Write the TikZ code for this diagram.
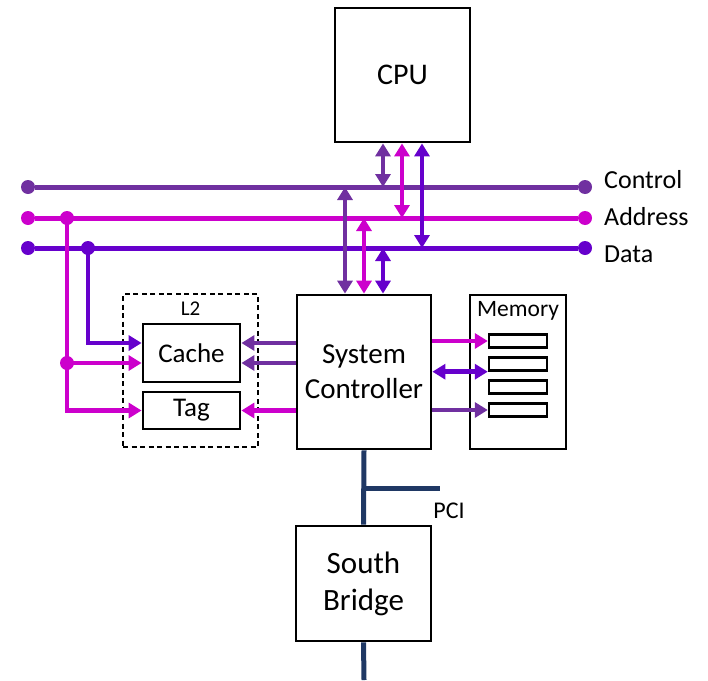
\documentclass[tikz,border=0pt]{standalone}
\usepackage{fontspec}
\setmainfont{Carlito}
\usetikzlibrary{arrows.meta,positioning,calc}
\definecolor{ctlc}{HTML}{7030A0}
\definecolor{addrc}{HTML}{CC00CC}
\definecolor{datac}{HTML}{6600CC}
\definecolor{pcic}{HTML}{1F3864}

\begin{document}
\begin{tikzpicture}[
    x=1pt, y=-1pt,
    box/.style={draw, line width=2.8pt, align=center, inner sep=0pt},
    membox/.style={draw, line width=1.4pt, inner sep=0pt},
    slot/.style={draw, line width=2.4pt, inner sep=0pt, minimum width=58pt, minimum height=13pt},
    l2box/.style={draw, dash pattern=on 5pt off 3.5pt, line width=1.2pt, inner sep=0pt},
    dot/.style={circle, inner sep=0pt, minimum size=14pt},
    bus/.style={line width=5pt},
    ar/.style={-{Triangle[length=13pt,width=15pt]}, line width=4.5pt},
    dar/.style={{Triangle[length=13pt,width=15pt]}-{Triangle[length=13pt,width=15pt]}, line width=4.5pt},
    pci/.style={line width=5pt, pcic},
    lbl/.style={anchor=west, inner sep=0pt, font=\fontsize{26}{30}\selectfont},
  ]
    \useasboundingbox (0,0) rectangle (708,680);

    % boxes
    \node[box, minimum width=135pt, minimum height=134pt, font=\fontsize{30}{36}\selectfont] (cpu) at (402.5,75) {CPU};
    \node[box, minimum width=134pt, minimum height=154pt, font=\fontsize{29}{35}\selectfont] (sysc) at (364,372) {System\\Controller};
    \node[box, minimum width=135pt, minimum height=115pt, font=\fontsize{31}{37}\selectfont] (sb) at (363.5,583.5) {South\\Bridge};
    \node[l2box, minimum width=135pt, minimum height=153pt] (l2) at (190.5,370.5) {};
    \node[font=\fontsize{21}{24}\selectfont, inner sep=0pt] (l2lbl) at (190.5,309) {L2};
    \node[box, minimum width=97pt, minimum height=58pt, font=\fontsize{27}{30}\selectfont] (cache) at (191.5,353) {Cache};
    \node[box, minimum width=97pt, minimum height=37pt, font=\fontsize{27}{30}\selectfont] (tag) at (191.5,410.5) {Tag};
    \node[membox, minimum width=96pt, minimum height=154pt] (mem) at (518,372) {};
    \node[font=\fontsize{23.5}{26}\selectfont, inner sep=0pt] (memlbl) at (518,311) {Memory};
    \node[slot] (slot1) at (518,341) {};
    \node[slot] (slot2) at (518,364) {};
    \node[slot] (slot3) at (518,387) {};
    \node[slot] (slot4) at (518,410) {};

    % buses
    \node[dot, fill=ctlc] (ctlL) at (28,187) {};
    \node[dot, fill=ctlc] (ctlR) at (585,187) {};
    \node[dot, fill=addrc] (addrL) at (28,218) {};
    \node[dot, fill=addrc] (addrR) at (585,218) {};
    \node[dot, fill=datac] (dataL) at (28,248) {};
    \node[dot, fill=datac] (dataR) at (585,248) {};
    \draw[bus, ctlc] (ctlL) -- (ctlR);
    \draw[bus, addrc] (addrL) -- (addrR);
    \draw[bus, datac] (dataL) -- (dataR);
    \node[lbl] (ctllbl) at (604,180) {Control};
    \node[lbl] (addrlbl) at (604,217) {Address};
    \node[lbl] (datalbl) at (604,254) {Data};

    % cpu to buses
    \coordinate (cctl) at (383,187);
    \coordinate (caddr) at (402,218);
    \coordinate (cdata) at (422,248);
    \draw[dar, ctlc] (cpu.south -| cctl) -- (cctl);
    \draw[dar, addrc] (cpu.south -| caddr) -- (caddr);
    \draw[dar, datac] (cpu.south -| cdata) -- (cdata);

    % buses to system controller
    \coordinate (sctl) at (345,187);
    \coordinate (saddr) at (364,218);
    \coordinate (sdata) at (383,248);
    \draw[dar, ctlc] (sctl) -- (sysc.north -| sctl);
    \draw[dar, addrc] (saddr) -- (sysc.north -| saddr);
    \draw[dar, datac] (sdata) -- (sysc.north -| sdata);

    % buses to L2
    \node[dot, fill=addrc] (atap) at (67,218) {};
    \node[dot, fill=datac] (dtap) at (88,248) {};
    \node[dot, fill=addrc] (ajoin) at (67,363) {};
    \coordinate (cu) at ([yshift=10pt]cache.west);
    \coordinate (cl) at ([yshift=-10pt]cache.west);
    \draw[ar, datac] (dtap.center) |- (cu);
    \draw[ar, addrc] (atap.center) |- (tag.west);
    \draw[ar, addrc] (ajoin.center) -- (cl);

    % system controller to L2
    \coordinate (cue) at ([yshift=10pt]cache.east);
    \coordinate (cle) at ([yshift=-10pt]cache.east);
    \draw[ar, ctlc] (sysc.west |- cue) -- (cue);
    \draw[ar, ctlc] (sysc.west |- cle) -- (cle);
    \draw[ar, addrc] (sysc.west |- tag.east) -- (tag.east);

    % system controller to memory
    \draw[ar, addrc] (sysc.east |- slot1) -- (slot1.west);
    \draw[dar, datac] (sysc.east |- slot2.south west) -- (slot2.south west);
    \draw[ar, ctlc] (sysc.east |- slot4) -- (slot4.west);

    % pci
    \coordinate (pcitap) at (364,488);
    \coordinate (pciend) at (440,488);
    \coordinate (sbend) at (364,680);
    \draw[pci] (sysc.south) -- (sb.north);
    \draw[pci] (pcitap) -- (pciend);
    \draw[pci] (sb.south) -- (sbend);
    \node[font=\fontsize{24}{28}\selectfont, inner sep=0pt] (pcilbl) at (449,511) {PCI};
  \end{tikzpicture}
\end{document}
